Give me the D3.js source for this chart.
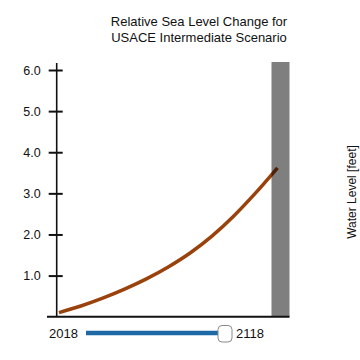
<!DOCTYPE html>
<html>
<head>
<meta charset="utf-8">
<script src="https://cdn.jsdelivr.net/npm/d3@7"></script>
<style>
  html, body { margin: 0; padding: 0; background: #fff; }
  svg { display: block; font-family: "Liberation Sans", Arial, Helvetica, sans-serif; }
</style>
</head>
<body>
<svg id="chart" width="360" height="360"></svg>
<script>
const titleLines = ["Relative Sea Level Change for", "USACE Intermediate Scenario"];
const yAxisLabel = "Water Level [feet]";
const years = [2018, 2028, 2038, 2048, 2058, 2068, 2078, 2088, 2098, 2108, 2118];
const seaLevel = [0.10, 0.26, 0.45, 0.67, 0.92, 1.21, 1.55, 1.96, 2.45, 3.01, 3.62];
const yTicks = [1, 2, 3, 4, 5, 6];
const sliderLabels = ["2018", "2118"];
const sliderRange = [2018, 2118];
const sliderValue = 2118;

const svg = d3.select("#chart");
const x = d3.scaleLinear().domain([2018, 2118]).range([59, 277.5]);
const y = d3.scaleLinear().domain([0, 6]).range([316.7, 70]);

// Title
svg.append("text")
  .attr("x", 199).attr("y", 25.5)
  .attr("text-anchor", "middle")
  .attr("font-size", 13).attr("fill", "#111")
  .selectAll("tspan").data(titleLines).join("tspan")
  .attr("x", 199).attr("dy", (d, i) => i === 0 ? 0 : 16.3)
  .text(d => d);

// Data line
const data = years.map((yr, i) => ({ yr, v: seaLevel[i] }));
svg.append("path")
  .datum(data)
  .attr("fill", "none")
  .attr("stroke", "#9a420c")
  .attr("stroke-width", 3.5)
  .attr("d", d3.line().x(d => x(d.yr)).y(d => y(d.v)).curve(d3.curveMonotoneX));

// Gray bar (current-year marker)
svg.append("rect")
  .attr("x", x(2118) - 6).attr("width", 18)
  .attr("y", y(6) - 8).attr("height", y(0) - y(6) + 8)
  .attr("fill", "#000").attr("fill-opacity", 0.5);

// Y axis
const axisG = svg.append("g").attr("transform", "translate(56.7,0)");
axisG.call(d3.axisLeft(y).tickValues(yTicks).tickFormat(d3.format(".1f")).tickSizeInner(8).tickSizeOuter(0).tickPadding(8));
axisG.select(".domain").remove();
axisG.selectAll(".tick line").attr("x1", 6).attr("stroke", "#111").attr("stroke-width", 2);
axisG.selectAll(".tick text").attr("font-size", 12.5).attr("fill", "#111")
  .attr("font-family", "Liberation Sans, Arial, sans-serif");
axisG.append("line")
  .attr("x1", 0).attr("x2", 0)
  .attr("y1", y(6) - 7).attr("y2", y(0))
  .attr("stroke", "#111").attr("stroke-width", 1.6);

// X baseline
svg.append("line")
  .attr("x1", 47).attr("x2", 289.5)
  .attr("y1", y(0)).attr("y2", y(0))
  .attr("stroke", "#111").attr("stroke-width", 2);

// Right axis label
svg.append("text")
  .attr("transform", "translate(356,192) rotate(-90)")
  .attr("text-anchor", "middle")
  .attr("font-size", 12).attr("fill", "#111")
  .text(yAxisLabel);

// Slider
const sx = d3.scaleLinear().domain(sliderRange).range([86, 225]);
svg.append("line")
  .attr("x1", sx(sliderRange[0])).attr("x2", sx(sliderValue))
  .attr("y1", 333).attr("y2", 333)
  .attr("stroke", "#1c69a6").attr("stroke-width", 4.5);
svg.append("rect")
  .attr("x", sx(sliderValue) - 7).attr("y", 325.5)
  .attr("width", 14).attr("height", 16.5)
  .attr("rx", 4).attr("ry", 4)
  .attr("fill", "#fff").attr("stroke", "#8a8a8a").attr("stroke-width", 1);
svg.append("text")
  .attr("x", 49).attr("y", 337.5)
  .attr("font-size", 13).attr("fill", "#111")
  .text(sliderLabels[0]);
svg.append("text")
  .attr("x", 236).attr("y", 337.5)
  .attr("font-size", 13).attr("fill", "#111")
  .text(sliderLabels[1]);
</script>
</body>
</html>
